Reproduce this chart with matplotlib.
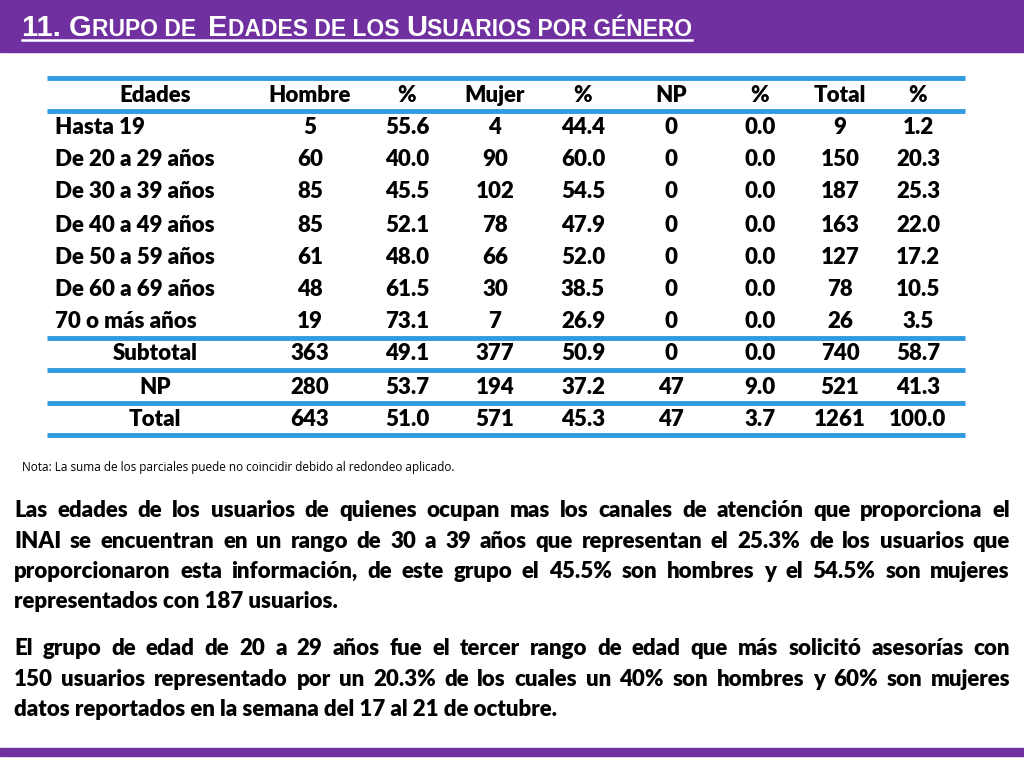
import matplotlib
matplotlib.use("Agg")
import matplotlib.pyplot as plt

# ---- data ----
edades = ["Hasta 19", "De 20 a 29 años", "De 30 a 39 años", "De 40 a 49 años",
          "De 50 a 59 años", "De 60 a 69 años", "70 o más años"]
hombre = [5, 60, 85, 85, 61, 48, 19]
hombre_pct = [55.6, 40.0, 45.5, 52.1, 48.0, 61.5, 73.1]
mujer = [4, 90, 102, 78, 66, 30, 7]
mujer_pct = [44.4, 60.0, 54.5, 47.9, 52.0, 38.5, 26.9]
np_ = [0, 0, 0, 0, 0, 0, 0]
np_pct = [0.0] * 7
total = [9, 150, 187, 163, 127, 78, 26]
total_pct = [1.2, 20.3, 25.3, 22.0, 17.2, 10.5, 3.5]
resumen = [
    ["Subtotal", 363, 49.1, 377, 50.9, 0, 0.0, 740, 58.7],
    ["NP", 280, 53.7, 194, 37.2, 47, 9.0, 521, 41.3],
    ["Total", 643, 51.0, 571, 45.3, 47, 3.7, 1261, 100.0],
]
headers = ["Edades", "Hombre", "%", "Mujer", "%", "NP", "%", "Total", "%"]

p1_lines = ["Las edades de los usuarios de quienes ocupan mas los canales de atención que proporciona el",
            "INAI se encuentran en un rango de 30 a 39 años que representan el 25.3% de los usuarios que",
            "proporcionaron esta información, de este grupo el 45.5% son hombres y el 54.5% son mujeres",
            "representados con 187 usuarios."]
p2_lines = ["El grupo de edad de 20 a 29 años fue el tercer rango de edad que más solicitó asesorías con",
            "150 usuarios representado por un 20.3% de los cuales un 40%  son hombres y 60% son mujeres",
            "datos reportados en la semana del 17 al  21 de octubre."]

PURPLE = "#7030A0"
BLUE = "#2F9BE0"
FONT = "Lato"
W = "heavy"

fig = plt.figure(figsize=(10.24, 7.68), dpi=100)
ax = fig.add_axes([0, 0, 1, 1])
ax.set_xlim(0, 1024)
ax.set_ylim(768, 0)
ax.axis("off")
fig.canvas.draw()
renderer = fig.canvas.get_renderer()
inv = ax.transData.inverted()


def width_of(t):
    bb = t.get_window_extent(renderer)
    (x0, _), (x1, _) = inv.transform([[bb.x0, bb.y0], [bb.x1, bb.y0]])
    return x1 - x0


# header bar
ax.add_patch(plt.Rectangle((0, 0), 1024, 52, color=PURPLE, zorder=0))
ax.add_patch(plt.Rectangle((0, 748), 1024, 8, color=PURPLE, zorder=0))

# small-caps title
segs = [("11. G", 21), ("RUPO DE  ", 16.5), ("E", 21), ("DADES DE LOS ", 16.5), ("U", 21),
        ("SUARIOS POR GÉNERO", 16.5)]
x = 22
for s, fs in segs:
    t = ax.text(x, 36, s, fontsize=fs, color="white", fontweight="bold",
                family="Liberation Sans", va="baseline", ha="left")
    x += width_of(t)
ax.plot([22, x], [40, 40], color="white", lw=1.8)

# table
col_x = [155, 310, 407, 495, 583, 671, 760, 840, 918]
fs_tab = 16
y_head = 95
for cx, h in zip(col_x, headers):
    ax.text(cx, y_head, h, fontsize=fs_tab, fontweight=W, family=FONT, ha="center", va="center")
row_y = [128, 160, 192, 225, 257, 290, 322]
for i, y in enumerate(row_y):
    ax.text(55, y, edades[i], fontsize=fs_tab, fontweight=W, family=FONT, ha="left", va="center")
    vals = [hombre[i], f"{hombre_pct[i]:.1f}", mujer[i], f"{mujer_pct[i]:.1f}",
            np_[i], f"{np_pct[i]:.1f}", total[i], f"{total_pct[i]:.1f}"]
    for cx, v in zip(col_x[1:], vals):
        ax.text(cx, y, str(v), fontsize=fs_tab, fontweight=W, family=FONT, ha="center", va="center")
for y, r in zip([354, 387, 419], resumen):
    ax.text(col_x[0], y, r[0], fontsize=fs_tab, fontweight=W, family=FONT, ha="center", va="center")
    vals = [r[1], f"{r[2]:.1f}", r[3], f"{r[4]:.1f}", r[5], f"{r[6]:.1f}", r[7], f"{r[8]:.1f}"]
    for cx, v in zip(col_x[1:], vals):
        ax.text(cx, y, str(v), fontsize=fs_tab, fontweight=W, family=FONT, ha="center", va="center")
for y in [78, 111, 338, 370, 403, 435]:
    ax.plot([47, 965], [y, y], color=BLUE, lw=3.5, solid_capstyle="butt")

ax.text(22, 467, "Nota: La suma de los parciales puede no coincidir debido al redondeo aplicado.",
        fontsize=8.5, family="Open Sans", ha="left", va="center")


def justified(lines, y0, dy, x0=14, x1=1010, fs=16):
    for k, line in enumerate(lines):
        y = y0 + k * dy
        words = line.split()
        last = k == len(lines) - 1
        if last:
            ax.text(x0, y, " ".join(words), fontsize=fs, fontweight=W, family=FONT,
                    ha="left", va="baseline")
            continue
        ts = [ax.text(0, y, w, fontsize=fs, fontweight=W, family=FONT, ha="left",
                      va="baseline") for w in words]
        ws = [width_of(t) for t in ts]
        gap = (x1 - x0 - sum(ws)) / (len(words) - 1)
        xx = x0
        for t, w in zip(ts, ws):
            t.set_x(xx)
            xx += w + gap


justified(p1_lines, 517, 30.5)
justified(p2_lines, 655, 30.5)

fig.savefig("out.png", dpi=100)
